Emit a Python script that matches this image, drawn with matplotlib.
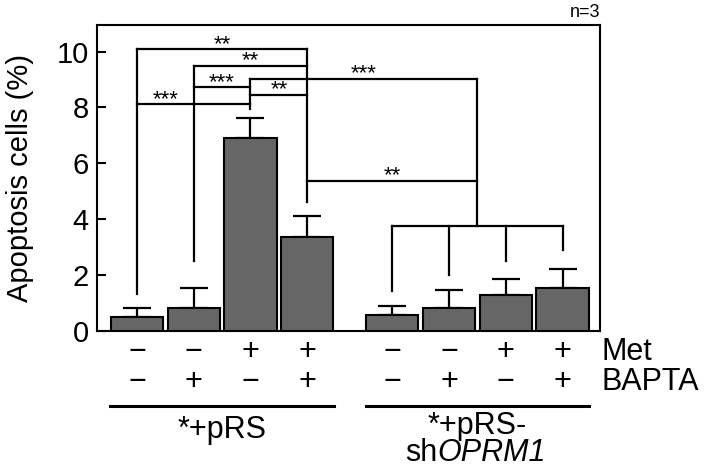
import matplotlib
matplotlib.use("Agg")
import matplotlib.pyplot as plt

plt.rcParams['font.family'] = ['Liberation Sans', 'DejaVu Sans']

# data
pos = [0, 1, 2, 3, 4.5, 5.5, 6.5, 7.5]
means = [0.49, 0.83, 6.90, 3.38, 0.58, 0.82, 1.29, 1.53]
errs = [0.34, 0.70, 0.72, 0.73, 0.32, 0.65, 0.57, 0.69]
met = ['−', '−', '+', '+', '−', '−', '+', '+']
bapta = ['−', '+', '−', '+', '−', '+', '−', '+']
group1 = '*+pRS'
group2 = ['*+pRS-', 'sh', 'OPRM1']

# significance brackets: (left bar, right bar or 'g', height, stars, label x)
grp_x = sum(pos[4:]) / 4
hlines = [(0, 3, 10.09, '**', 1.5),
          (1, 3, 9.49, '**', 2.0),
          (1, 2, 8.73, '***', 1.5),
          (2, 3, 8.46, '**', 2.5),
          (0, 2, 8.12, '***', 0.5),
          (2, 'g', 9.03, '***', 4.0),
          (3, 'g', 5.37, '**', 4.5),
          (4, 7, 3.77, '', None)]
vlines = [(0, 1.31, 10.09), (1, 2.51, 9.49), (2, 7.94, 9.03), (3, 4.63, 10.09),
          ('g', 3.77, 9.03), (4, 1.44, 3.77), (5, 2.00, 3.77), (6, 2.51, 3.77),
          (7, 2.90, 3.77)]

def xof(k):
    return grp_x if k == 'g' else pos[k]

fig = plt.figure(figsize=(7.08, 4.72), dpi=100)
ax = fig.add_axes([0.137, 0.2987, 0.7105, 0.6483])

ax.bar(pos, means, width=0.92, color='#666666', edgecolor='black', linewidth=1.5, zorder=3)
ax.errorbar(pos, means, yerr=[[0] * len(errs), errs], fmt='none', ecolor='black',
            elinewidth=1.6, capsize=10, capthick=1.6, zorder=2)

for a, b, h, s, lx in hlines:
    ax.plot([xof(a), xof(b)], [h, h], color='black', lw=1.6, solid_capstyle='projecting')
    if s:
        ax.annotate(s, (lx, h), xytext=(0, -0.5), textcoords='offset points',
                    ha='center', va='baseline', fontsize=16)
for k, y0, y1 in vlines:
    ax.plot([xof(k), xof(k)], [y0, y1], color='black', lw=1.6, solid_capstyle='projecting')

ax.set_xlim(-0.705, 8.16)
ax.set_ylim(0, 10.95)
ax.set_yticks([0, 2, 4, 6, 8, 10])
ax.tick_params(axis='y', direction='in', length=6.5, width=1.5, labelsize=21, pad=6)
ax.set_xticks([])
for sp in ax.spines.values():
    sp.set_linewidth(1.5)
ax.set_ylabel('Apoptosis cells (%)', fontsize=21, labelpad=16)

tr = ax.get_xaxis_transform()
for i in range(len(pos)):
    ax.text(pos[i], -0.0686, met[i], transform=tr, ha='center', va='center', fontsize=22)
    ax.text(pos[i], -0.167, bapta[i], transform=tr, ha='center', va='center', fontsize=22)
ax.text(1.002, -0.0686, 'Met', transform=ax.transAxes, ha='left', va='center', fontsize=22)
ax.text(1.002, -0.167, 'BAPTA', transform=ax.transAxes, ha='left', va='center', fontsize=22)

for lo, hi in [(0, 3), (4, 7)]:
    ax.plot([pos[lo] - 0.47, pos[hi] + 0.47], [-0.244, -0.244], transform=tr,
            color='black', lw=2.2, clip_on=False)
ax.text(sum(pos[:4]) / 4, -0.3235, group1, transform=tr, ha='center', va='center', fontsize=22)
ax.text(grp_x, -0.310, group2[0], transform=tr, ha='center', va='center', fontsize=22)
t = ax.text(4.72, -0.399, group2[1], transform=tr, ha='left', va='center', fontsize=22)
ax.annotate(group2[2], xy=(1, 0), xycoords=t, ha='left', va='bottom', fontsize=22,
            fontstyle='italic')

ax.text(1.0, 1.042, 'n=3', transform=ax.transAxes, ha='right', va='center', fontsize=13)

fig.savefig('out.png', dpi=100)
